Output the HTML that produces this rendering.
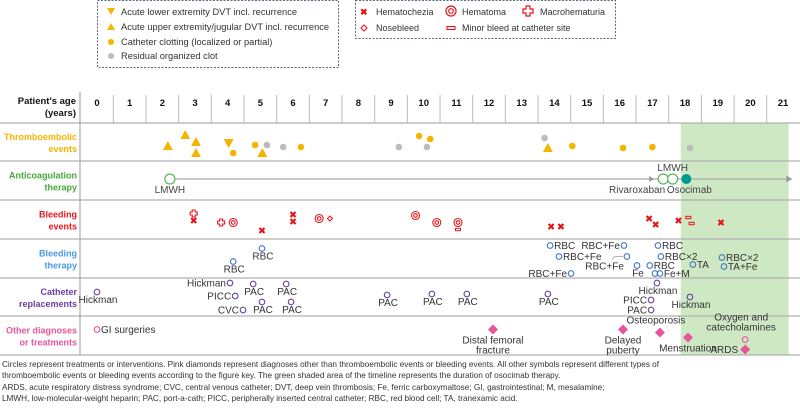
<!DOCTYPE html>
<html><head><meta charset="utf-8"><style>
body{margin:0;background:#fff;}
svg{display:block;font-family:"Liberation Sans",Arial,sans-serif;}
</style></head><body>
<svg id="c" width="800" height="408" viewBox="0 0 800 408" xmlns="http://www.w3.org/2000/svg">
<g>
<rect x="97.5" y="0.5" width="241" height="67" fill="none" stroke="#5a6a80" stroke-dasharray="2,1.5"/>
<path d="M107,8 l8,0 l-4,7 z" fill="#f5b400"/><text x="121" y="15" font-size="9.3" fill="#333">Acute lower extremity DVT incl. recurrence</text>
<path d="M107,30 l8,0 l-4,-7 z" fill="#f5b400"/><text x="121" y="30" font-size="9.3" fill="#333">Acute upper extremity/jugular DVT incl. recurrence</text>
<circle cx="111" cy="42" r="3" fill="#f5b400"/><text x="121" y="45" font-size="9.3" fill="#333">Catheter clotting (localized or partial)</text>
<circle cx="111" cy="56" r="3" fill="#bbb"/><text x="121" y="59" font-size="9.3" fill="#333">Residual organized clot</text>
</g>
<g>
<rect x="355.5" y="0.5" width="260" height="38" fill="none" stroke="#5a6a80" stroke-dasharray="2,1.5"/>
<text x="360" y="15" font-size="9" fill="#e8141c" font-weight="bold">✖</text><text x="376" y="15" font-size="9" fill="#333">Hematochezia</text>
<circle cx="451" cy="11" r="5" fill="none" stroke="#e8141c" stroke-width="1.2"/><circle cx="451" cy="11" r="2.3" fill="none" stroke="#e8141c" stroke-width="1.2"/><text x="462" y="15" font-size="9" fill="#333">Hematoma</text>
<path d="M526,6 h4 v3 h3 v4 h-3 v3 h-4 v-3 h-3 v-4 h3 z" fill="none" stroke="#e8141c" stroke-width="1.2"/><text x="540" y="15" font-size="9" fill="#333">Macrohematuria</text>
<path d="M364,25 l3,3 l-3,3 l-3,-3 z" fill="none" stroke="#e8141c" stroke-width="1.1"/><text x="376" y="31" font-size="9" fill="#333">Nosebleed</text>
<rect x="447" y="26.5" width="8" height="3" fill="none" stroke="#e8141c" stroke-width="1.1"/><text x="462" y="31" font-size="9" fill="#333">Minor bleed at catheter site</text>
</g>
<g id="plot"></g>
<g font-size="8.2" fill="#333">
<text x="2" y="367">Circles represent treatments or interventions. Pink diamonds represent diagnoses other than thromboembolic events or bleeding events. All other symbols represent different types of</text>
<text x="2" y="378">thromboembolic events or bleeding events according to the figure key. The green shaded area of the timeline represents the duration of osocimab therapy.</text>
<text x="2" y="390">ARDS, acute respiratory distress syndrome; CVC, central venous catheter; DVT, deep vein thrombosis; Fe, ferric carboxymaltose; GI, gastrointestinal; M, mesalamine;</text>
<text x="2" y="401">LMWH, low-molecular-weight heparin; PAC, port-a-cath; PICC, peripherally inserted central catheter; RBC, red blood cell; TA, tranexamic acid.</text>
</g>
</svg>
<script>
const years=[0,1,2,3,4,5,6,7,8,9,10,11,12,13,14,15,16,17,18,19,20,21];
const osocimabStart=17.87, osocimabEnd=21.17;
// [age, laneOffset, type]
const thromboEvents=[[2.17,4,'up'],[2.7,-7,'up'],[3.03,0,'up'],[3.03,11,'up'],[4.03,1,'down'],[4.17,11,'clot'],[4.84,3,'clot'],[5.2,3,'residual'],[5.06,11,'up'],[5.7,5,'residual'],[6.24,5,'clot'],[9.24,5,'residual'],[9.86,-6,'clot'],[10.2,-3,'clot'],[10.1,5,'residual'],[13.7,-4,'residual'],[13.8,6,'up'],[14.55,4,'clot'],[16.1,6,'clot'],[17.0,5,'clot'],[18.15,6,'residual']];
const bleedEvents=[[2.96,-6,'macro'],[2.96,1,'hemc'],[3.8,3,'macro'],[4.17,3,'hemo'],[5.05,11,'hemc'],[6.0,-5,'hemc'],[6.0,2,'hemc'],[6.8,-1,'hemo'],[7.13,-1,'nose'],[9.75,-4,'hemo'],[10.4,3,'hemo'],[11.05,3,'hemo'],[11.05,10,'minor'],[13.9,7,'hemc'],[14.2,7,'hemc'],[16.9,-1,'hemc'],[17.1,5,'hemc'],[17.8,1,'hemc'],[18.1,-2,'minor'],[18.2,4,'minor'],[19.1,3,'hemc']];
// [age, laneOffset, label, labelPosition]
const bleedTherapy=[[5.05,-10,'RBC','below'],[4.17,3,'RBC','below'],[13.87,-13,'RBC','right'],[14.14,-2,'RBC+Fe','right'],[14.51,15,'RBC+Fe','left'],[16.13,-13,'RBC+Fe','left'],[16.22,-2,'RBC+Fe','leader'],[16.53,7,'Fe','below'],[17.17,-13,'RBC','right'],[17.26,-2,'RBC×2','right'],[16.92,7,'RBC','right'],[17.08,15,'','none'],[17.23,15,'Fe+M','right'],[18.24,6,'TA','right'],[19.13,-1,'RBC×2','right'],[19.19,8,'TA+Fe','right']];
const catheters=[[0.0,-5,'Hickman','below'],[4.07,-14,'Hickman','left'],[4.23,-1,'PICC','left'],[4.47,13,'CVC','left'],[4.78,-13,'PAC','below'],[5.79,-13,'PAC','below'],[5.05,5,'PAC','below'],[5.94,5,'PAC','below'],[8.88,-2,'PAC','below'],[10.25,-3,'PAC','below'],[11.32,-3,'PAC','below'],[13.8,-3,'PAC','below'],[17.14,-14,'Hickman','below'],[16.96,3,'PICC','left'],[16.96,13,'PAC','left'],[18.15,0,'Hickman','below']];
// [age, laneOffset, type, label lines, labelPosition]
const otherEvents=[[0.0,-6,'circle',['GI surgeries'],'right'],[12.12,-6,'diamond',['Distal femoral','fracture'],'below'],[16.1,-6,'diamond',['Delayed','puberty'],'below'],[17.23,-3,'diamond',['Osteoporosis'],'above'],[18.09,2,'diamond',['Menstruation'],'below'],[19.84,4,'circle',['Oxygen and','catecholamines'],'above'],[19.84,14,'diamond',['ARDS'],'left']];
// anticoagulation: [age, type, label, labelPos]
const anticoag=[[2.23,'open','LMWH','below'],[17.33,'open','Rivaroxaban','below'],[17.62,'open','LMWH','above'],[18.04,'teal','Osocimab','below']];

const NS='http://www.w3.org/2000/svg';
const g=document.getElementById('plot');
const X=v=>97+32.67*v;
const rows=[{c:142,t:['Thromboembolic','events'],col:'#f5b400'},{c:180.5,t:['Anticoagulation','therapy'],col:'#45a83a'},{c:219.5,t:['Bleeding','events'],col:'#e8141c'},{c:258.5,t:['Bleeding','therapy'],col:'#4a9ade'},{c:297,t:['Catheter','replacements'],col:'#6a3fa0'},{c:335.5,t:['Other diagnoses','or treatments'],col:'#e5559c'}];
const lines=[123,161,200,239,278,316,355];
function el(tag,at,parent){const e=document.createElementNS(NS,tag);for(const k in at)e.setAttribute(k,at[k]);(parent||g).appendChild(e);return e;}
function txt(x,y,s,at){const e=el('text',Object.assign({x:x,y:y,'font-size':10,fill:'#333'},at||{}));e.textContent=s;return e;}

const shade=el('rect',{x:X(osocimabStart),y:123,width:X(osocimabEnd)-X(osocimabStart),height:232,fill:'#cde8c3'});



lines.forEach(y=>{const l=el('line',{x1:0,x2:800,y1:y,y2:y,stroke:'#b0b0b0','stroke-width':1.3});

});
const vl=el('line',{x1:80,x2:80,y1:92,y2:355,stroke:'#999','stroke-width':1});



const hdr=txt(76,104,"Patient's age",{'font-size':9.5,'font-weight':'bold','text-anchor':'end',fill:'#111'});


txt(76,116,"(years)",{'font-size':9.5,'font-weight':'bold','text-anchor':'end',fill:'#111'});
years.forEach((yv,i)=>{const t=txt(X(yv),106,String(yv),{'font-size':9.5,'font-weight':'bold','text-anchor':'middle',fill:'#111'});


if(i<years.length-1){const l=el('line',{x1:X(yv+0.5),x2:X(yv+0.5),y1:95,y2:123,stroke:'#bbb'});

}});

rows.forEach(r=>{r.t.forEach((s,i)=>{const t=txt(77,r.c-2+i*12,s,{'font-size':9,'font-weight':'bold','text-anchor':'end',fill:r.col});

});});

function tri(x,y,up,c){const d=up?`M${x-5},${y+4} L${x+5},${y+4} L${x},${y-5} Z`:`M${x-5},${y-4} L${x+5},${y-4} L${x},${y+5} Z`;return el('path',{d:d,fill:c});}
thromboEvents.forEach(e=>{const x=X(e[0]),y=rows[0].c+e[1];let m;
if(e[2]==='up')m=tri(x,y,true,'#f5b400');else if(e[2]==='down')m=tri(x,y,false,'#f5b400');
else m=el('circle',{cx:x,cy:y,r:3.3,fill:e[2]==='clot'?'#f5b400':'#bbb'});

});

const ac=rows[1].c-1.5;
const al=el('line',{x1:X(anticoag[0][0]),x2:X(21.1),y1:ac,y2:ac,stroke:'#aaa','stroke-width':1.2});


el('path',{d:`M${X(16.9)},${ac-3} l5,3 l-5,3 z`,fill:'#999'});
el('path',{d:`M${X(21.1)},${ac-3.5} l6,3.5 l-6,3.5 z`,fill:'#999'});
anticoag.forEach(a=>{const x=X(a[0]);let m;
if(a[1]==='teal')m=el('circle',{cx:x,cy:ac,r:5,fill:'#009990'});
else m=el('circle',{cx:x,cy:ac,r:5,fill:'#fff',stroke:'#5cb85c','stroke-width':1.2});


const anc=a[2]==='Rivaroxaban'?'end':'middle';const lx=a[2]==='Rivaroxaban'?x+2:(a[2]==='Osocimab'?x+3:x);
const t=txt(lx,a[3]==='below'?ac+14:ac-8,a[2],{'text-anchor':anc,'font-size':10,fill:'#444'});

});

const R='#e8141c';
bleedEvents.forEach(e=>{const x=X(e[0]),y=rows[2].c+e[1];let m;
if(e[2]==='hemc'){m=el('path',{d:`M${x-2.5},${y-2.5} L${x+2.5},${y+2.5} M${x+2.5},${y-2.5} L${x-2.5},${y+2.5}`,stroke:R,'stroke-width':2.2});}
else if(e[2]==='hemo'){m=el('g',{});el('circle',{cx:x,cy:y,r:4,fill:'none',stroke:R,'stroke-width':1.1},m);el('circle',{cx:x,cy:y,r:1.8,fill:'none',stroke:R,'stroke-width':1.1},m);}
else if(e[2]==='macro'){m=el('path',{d:`M${x-1.5},${y-3.5} h3 v2 h2 v3 h-2 v2 h-3 v-2 h-2 v-3 h2 z`,fill:'none',stroke:R,'stroke-width':1.1});}
else if(e[2]==='nose'){m=el('path',{d:`M${x},${y-2.5} l2.5,2.5 l-2.5,2.5 l-2.5,-2.5 z`,fill:'none',stroke:R,'stroke-width':1});}
else m=el('rect',{x:x-2.5,y:y-1.2,width:5,height:2.4,fill:'none',stroke:R,'stroke-width':1});

});

function labeled(list,row,col,name){list.forEach(e=>{const x=X(e[0]),y=rows[row].c+e[1];
const m=el('circle',{cx:x,cy:y,r:2.8,fill:'none',stroke:col,'stroke-width':1.1});


let t=null;
if(e[3]==='below')t=txt(x+1,y+11,e[2],{'text-anchor':'middle'});
else if(e[3]==='right')t=txt(x+4,y+3.5,e[2]);
else if(e[3]==='left')t=txt(x-4,y+3.5,e[2],{'text-anchor':'end'});
else if(e[3]==='leader'){el('path',{d:`M${x-4},${y} L${x-12},${y} L${x-15},${y+3}`,stroke:'#999',fill:'none','stroke-width':0.8});t=txt(x-3,y+13,e[2],{'text-anchor':'end'});}
if(t){
}});}
labeled(bleedTherapy,3,'#3f76c6','bleeding-therapy');
labeled(catheters,4,'#6a3fa0','catheter');

otherEvents.forEach(e=>{const x=X(e[0]),y=rows[5].c+e[1];let m;
if(e[2]==='circle')m=el('circle',{cx:x,cy:y,r:2.8,fill:'none',stroke:'#e5559c','stroke-width':1.1});
else m=el('path',{d:`M${x},${y-5} l5,5 l-5,5 l-5,-5 z`,fill:'#e5559c'});


const L=e[3];L.forEach((s,i)=>{let t;
if(e[4]==='right')t=txt(x+4,y+3.5,s);
else if(e[4]==='left')t=txt(x-7,y+3.5,s,{'text-anchor':'end'});
else if(e[4]==='below')t=txt(x,y+14+i*10,s,{'text-anchor':'middle'});
else t=txt(x-4,y-9-(L.length-1-i)*10,s,{'text-anchor':'middle'});

});});
</script>
</body></html>
